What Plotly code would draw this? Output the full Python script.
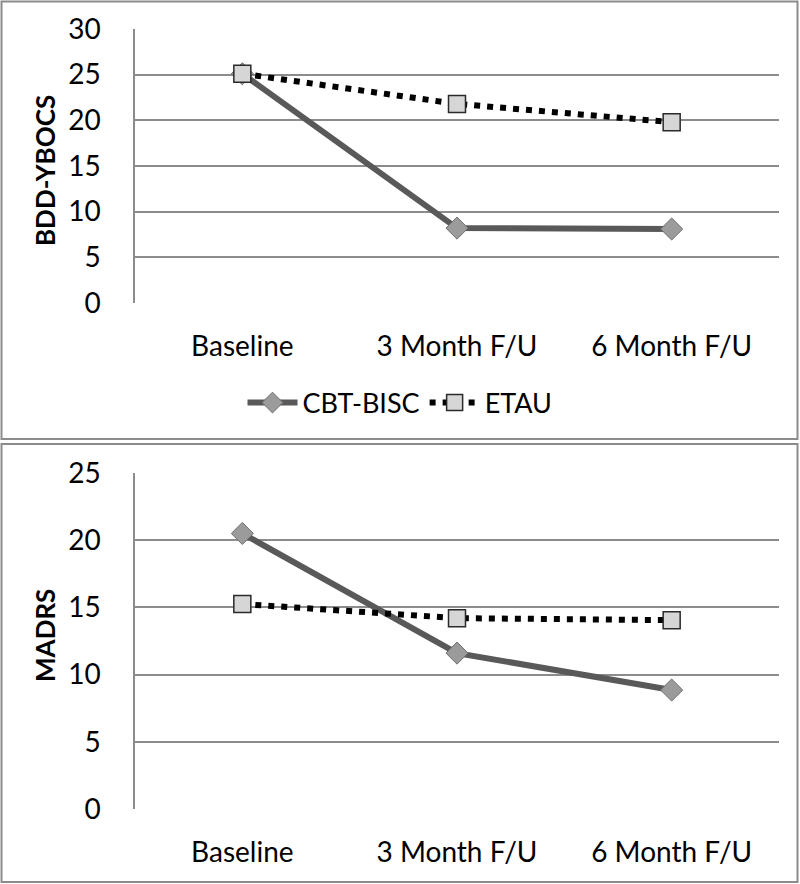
import plotly.graph_objects as go

categories = ["Baseline", "3 Month F/U", "6 Month F/U"]
ybocs_cbt = [25.1, 8.2, 8.1]
ybocs_etau = [25.1, 21.8, 19.8]
madrs_cbt = [20.5, 11.6, 8.85]
madrs_etau = [15.25, 14.2, 14.05]
series_names = ["CBT-BISC", "ETAU"]

W, H = 800, 884
FONT = "Lato"

def px_y(p):
    return 1 - p / H

fig = go.Figure()

cbt_line = dict(color="#595959", width=6)
cbt_marker = dict(symbol="diamond", size=17, color="#9b9b9b", line=dict(color="#6f6f6f", width=1))
etau_line = dict(color="#000000", width=6, dash="6px,7px")
etau_marker = dict(symbol="square", size=17, color="#d6d6d6", line=dict(color="#2a2a2a", width=1.5))

fig.add_trace(go.Scatter(x=categories, y=ybocs_cbt, name=series_names[0], mode="lines+markers",
                         line=cbt_line, marker=cbt_marker, xaxis="x", yaxis="y"))
fig.add_trace(go.Scatter(x=categories, y=ybocs_etau, name=series_names[1], mode="lines+markers",
                         line=etau_line, marker=etau_marker, xaxis="x", yaxis="y"))
fig.add_trace(go.Scatter(x=categories, y=madrs_cbt, name=series_names[0], mode="lines+markers",
                         line=cbt_line, marker=cbt_marker, xaxis="x2", yaxis="y2", showlegend=False))
fig.add_trace(go.Scatter(x=categories, y=madrs_etau, name=series_names[1], mode="lines+markers",
                         line=etau_line, marker=etau_marker, xaxis="x2", yaxis="y2", showlegend=False))

xdom = [135 / W, 779 / W]
xcommon = dict(type="category", range=[-0.5, 2.5], showgrid=False, showline=False, zeroline=False,
               ticks="", tickfont=dict(family=FONT, size=28, color="#000"), ticklabelstandoff=24,
               fixedrange=True, automargin=False)
ycommon = dict(showgrid=True, gridcolor="#8c8c8c", gridwidth=1.5, dtick=5, showline=True,
               linecolor="#8c8c8c", linewidth=1.5, zeroline=False, ticks="",
               tickfont=dict(family=FONT, size=28, color="#000"), ticklabelstandoff=27,
               fixedrange=True, automargin=False)

fig.update_layout(
    width=W, height=H, margin=dict(l=0, r=0, t=0, b=0, pad=0, autoexpand=False),
    paper_bgcolor="white", plot_bgcolor="white",
    xaxis=dict(domain=xdom, anchor="y", **xcommon),
    yaxis=dict(domain=[px_y(303), px_y(29)], range=[0, 30], anchor="x", **ycommon),
    xaxis2=dict(domain=xdom, anchor="y2", **xcommon),
    yaxis2=dict(domain=[px_y(809), px_y(473)], range=[0, 25], anchor="x2", **ycommon),
    showlegend=True,
    legend=dict(orientation="h", x=0.5, xanchor="center", y=px_y(403), yanchor="middle",
                font=dict(family=FONT, size=27, color="#000"), itemwidth=50,
                bgcolor="rgba(0,0,0,0)", tracegroupgap=0),
    shapes=[
        dict(type="rect", xref="paper", yref="paper", x0=1.5 / W, x1=797.5 / W, y0=px_y(439), y1=px_y(1.5),
             line=dict(color="#8c8c8c", width=2)),
        dict(type="rect", xref="paper", yref="paper", x0=1.5 / W, x1=797.5 / W, y0=px_y(882), y1=px_y(444),
             line=dict(color="#8c8c8c", width=2)),
    ],
    annotations=[
        dict(text="<b>BDD-YBOCS</b>", xref="paper", yref="paper", x=45 / W, y=px_y(171), textangle=-90,
             showarrow=False, font=dict(family=FONT, size=26, color="#000"), xanchor="center", yanchor="middle"),
        dict(text="<b>MADRS</b>", xref="paper", yref="paper", x=45 / W, y=px_y(636), textangle=-90,
             showarrow=False, font=dict(family=FONT, size=26, color="#000"), xanchor="center", yanchor="middle"),
    ],
)

fig.write_html("out.html", config={"displayModeBar": False},
               post_script="document.body.style.margin='0';document.body.style.padding='0';")
